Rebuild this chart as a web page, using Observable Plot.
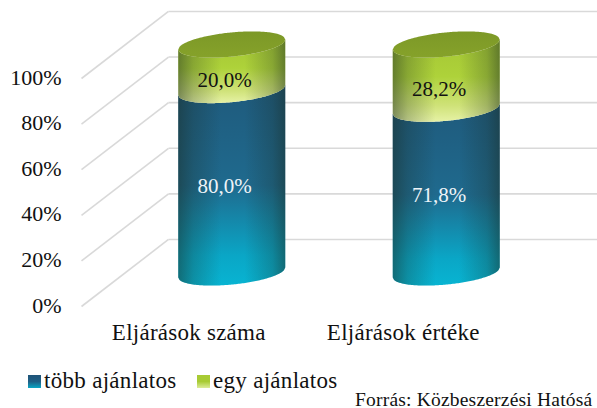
<!DOCTYPE html>
<html><head><meta charset="utf-8">
<script src="https://cdn.jsdelivr.net/npm/d3@7"></script>
<script src="https://cdn.jsdelivr.net/npm/@observablehq/plot@0.6"></script>
<style>
html,body{margin:0;padding:0;background:#fff;overflow:hidden}
#page{position:relative;width:597px;height:408px;font-family:"Liberation Serif",serif;color:#111}
svg{display:block}
.leg{position:absolute;top:369px;font-size:23px;line-height:24px;white-space:nowrap;letter-spacing:.3px}
.sw{position:absolute;top:375px;width:13px;height:13px}
#src{position:absolute;left:355px;top:390px;font-size:19.5px;line-height:20px;white-space:nowrap;letter-spacing:.2px}
</style></head><body><div id="page">
<div id="chart"></div>
<div class="sw" style="left:28px;background:linear-gradient(#1f5478 0%,#1f5f85 50%,#0aa6c4 100%)"></div>
<div class="leg" id="l1" style="left:44px"></div>
<div class="sw" style="left:197px;background:linear-gradient(#a8cb34 0%,#a8cb34 50%,#dcec98 100%)"></div>
<div class="leg" id="l2" style="left:213px"></div>
<div id="src"></div>
</div>
<script>
const categories = ["Eljárások száma", "Eljárások értéke"];
const tobbAjanlatos = [80.0, 71.8];
const egyAjanlatos = [20.0, 28.2];
const seriesNames = ["több ajánlatos", "egy ajánlatos"];
const sourceText = "Forrás: Közbeszerzési Hatósá";
const yTicks = [0, 20, 40, 60, 80, 100];

// 3D projection, expressed in scale units
const depthX = 0.4056, depthY = 29.4;
const radiusX = 0.2494, tiltY = 2.2, radiusY = 5.3;
const comma = v => v.toFixed(1).replace(".", ",") + "%";
const centerX = i => i + 0.5 + depthX / 2;
const us = d3.range(0, 81).map(k => -1 + k / 40);
const edge = (v, side) => u =>
  v + depthY / 2 + tiltY * u - side * radiusY * Math.sqrt(Math.max(0, 1 - u * u));
function surface(i, y1v, y1side, y2v, y2side) {
  return us.map(u => ({
    x: centerX(i) + radiusX * u,
    y1: edge(y1v, y1side)(u),
    y2: edge(y2v, y2side)(u)
  }));
}
const bodies = categories.map((c, i) => ({
  blue: surface(i, 0, 1, tobbAjanlatos[i], 1),
  green: surface(i, tobbAjanlatos[i], 1, 100, 1),
  cap: surface(i, 100, 1, 100, -1)
}));
const labelRows = categories.map((c, i) => ({
  i, x: centerX(i) - 0.036,
  blue: tobbAjanlatos[i] / 2 + depthY / 2,
  green: tobbAjanlatos[i] + egyAjanlatos[i] / 2 + depthY / 2,
  t: comma(tobbAjanlatos[i]), g: comma(egyAjanlatos[i])
}));
const catRows = categories.map((c, i) => ({c, x: i + 0.5}));
const area = (d, fill) => Plot.areaY(d, {x: "x", y1: "y1", y2: "y2", fill, stroke: "none"});
const font = '"Liberation Serif", serif';

const plot = Plot.plot({
  width: 597, height: 360,
  marginLeft: 0, marginRight: 0, marginTop: 0, marginBottom: 0,
  style: {background: "#fff", fontFamily: font, overflow: "visible"},
  x: {domain: [0, 2 + depthX], range: [81, 597], axis: null},
  y: {domain: [0, 100], range: [306, 78], axis: null},
  marks: [
    Plot.link(yTicks, {x1: () => 0, x2: () => depthX, y1: d => d, y2: d => d + depthY, stroke: "#d9d9d9", strokeWidth: 1.6}),
    Plot.link(yTicks, {x1: () => depthX, x2: () => 2 + depthX, y1: d => d + depthY, y2: d => d + depthY, stroke: "#d9d9d9", strokeWidth: 1.6}),
    ...bodies.flatMap(b => [
      area(b.blue, "url(#gBlue)"), area(b.blue, "url(#gShade)"),
      area(b.green, "url(#gGreen)"), area(b.green, "url(#gShade)"),
      area(b.cap, "url(#gCap)")
    ]),
    Plot.text(yTicks, {x: () => 0, y: d => d, text: d => d + "%", textAnchor: "end", dx: -20, dy: -1, fontSize: 22, fill: "#111"}),
    Plot.text(catRows, {x: "x", y: () => 0, text: "c", dy: 26, fontSize: 23, fill: "#111", className: "cat"}),
    Plot.text(labelRows, {x: "x", y: "blue", text: "t", fill: "#eef4f8", fontSize: 21, dy: 4}),
    Plot.text(labelRows, {x: "x", y: "green", text: "g", fill: "#111", fontSize: 21, dy: 12})
  ]
});

const svg = d3.select(plot);
svg.selectAll(".cat text").style("letter-spacing", "0.25px");
const defs = svg.insert("defs", ":first-child");
function grad(id, vertical, stops) {
  const g = defs.append("linearGradient").attr("id", id)
    .attr("x1", 0).attr("y1", 0).attr("x2", vertical ? 0 : 1).attr("y2", vertical ? 1 : 0);
  stops.forEach(([o, c, a]) => g.append("stop").attr("offset", o).attr("stop-color", c).attr("stop-opacity", a ?? 1));
}
grad("gBlue", true, [[0, "#1f5a7c"], [0.5, "#1f6a8e"], [0.85, "#0aa6c6"], [1, "#08b4d2"]]);
grad("gGreen", true, [[0, "#a4c634"], [0.45, "#aed23a"], [0.8, "#cfe278"], [1, "#e6f2a6"]]);
grad("gCap", true, [[0, "#7c9827"], [1, "#86a22a"]]);
grad("gShade", false, [[0, "#1a2a20", 0.5], [0.14, "#1a2a20", 0.25], [0.4, "#1a2a20", 0], [0.62, "#1a2a20", 0], [0.88, "#1a2a20", 0.25], [1, "#1a2a20", 0.5]]);
document.getElementById("chart").append(plot);
document.getElementById("l1").textContent = seriesNames[0];
document.getElementById("l2").textContent = seriesNames[1];
document.getElementById("src").textContent = sourceText;
</script></body></html>
